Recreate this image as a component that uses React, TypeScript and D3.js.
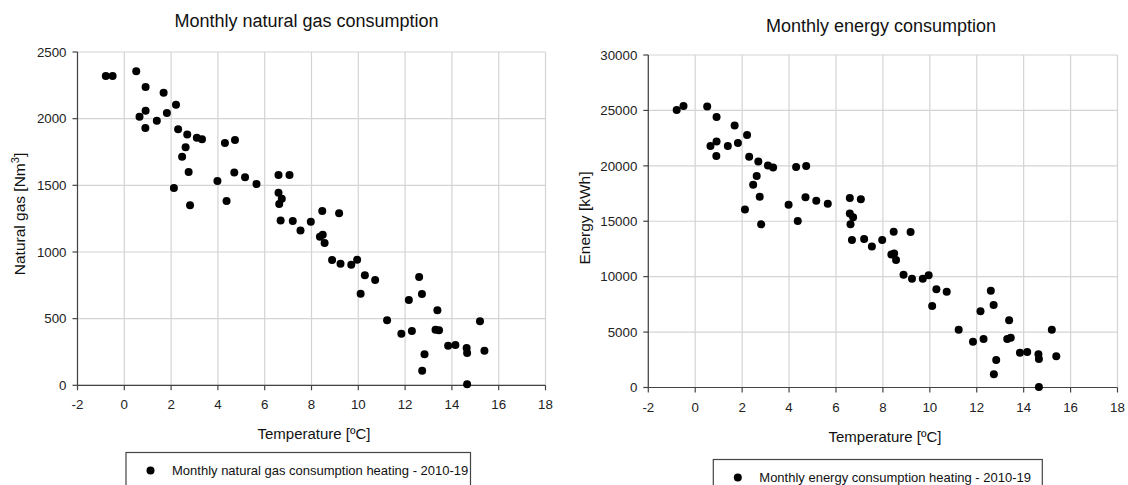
import React from "react";
import * as d3 from "d3";

const temperature = [
  -0.79, -0.5, 0.51, 0.91, 1.68, 2.21, 0.65, 0.91, 0.9, 1.39, 1.82, 2.3, 2.69, 3.1, 3.32, 2.62, 2.47,
  2.75, 2.12, 2.81, 4.3, 4.73, 4.7, 5.16, 5.65, 3.98, 4.37, 6.59, 7.06, 6.59, 6.73, 6.62, 6.68, 7.2,
  7.53, 7.97, 8.46, 9.18, 8.36, 8.48, 8.56, 8.88, 9.24, 9.7, 9.95, 10.28, 10.72, 10.1, 11.23, 11.84,
  12.29, 12.16, 12.6, 12.72, 13.38, 13.3, 13.45, 12.83, 12.73, 13.84, 14.15, 14.63, 14.65, 15.2,
  15.39, 14.65,
];

const naturalGas = [
  2320, 2320, 2355, 2237, 2195, 2105, 2015, 2060, 1930, 1985, 2042, 1920, 1882, 1857, 1845, 1785,
  1715, 1600, 1480, 1350, 1817, 1840, 1597, 1560, 1510, 1532, 1382, 1577, 1577, 1445, 1400, 1360,
  1237, 1232, 1162, 1227, 1307, 1290, 1115, 1130, 1067, 940, 912, 905, 942, 825, 790, 687, 487, 387,
  407, 640, 812, 685, 562, 417, 412, 232, 110, 297, 302, 280, 242, 480, 260, 7,
];

const energy = [
  25030, 25390, 25360, 24400, 23650, 22780, 21780, 22200, 20880, 21780, 22050, 20820, 20400, 20040,
  19860, 19080, 18290, 17210, 16070, 14720, 19890, 19980, 17160, 16850, 16580, 16490, 15020, 17090,
  16980, 15710, 15350, 14720, 13300, 13390, 12730, 13300, 14050, 14030, 12010, 12100, 11500, 10180,
  9810, 9810, 10120, 8860, 8640, 7350, 5210, 4130, 4370, 6870, 8730, 7440, 6060, 4370, 4490, 2480,
  1190, 3140, 3200, 2990, 2570, 5210, 2810, 45,
];

const xTicks = [-2, 0, 2, 4, 6, 8, 10, 12, 14, 16, 18];
const gasTicks = [0, 500, 1000, 1500, 2000, 2500];
const energyTicks = [0, 5000, 10000, 15000, 20000, 25000, 30000];

const FONT = "'Liberation Sans', Arial, sans-serif";

type PanelProps = {
  left: number;
  right: number;
  top: number;
  bottom: number;
  values: number[];
  yTicks: number[];
  title: string;
  titleX: number;
  titleY: number;
  yLabel: React.ReactNode;
  yLabelX: number;
  yLabelY: number;
  xLabelX: number;
  xLabelY: number;
  legend: string;
  legendBox: { x1: number; x2: number; y: number };
};

function Panel(p: PanelProps) {
  const x = d3.scaleLinear().domain([-2, 18]).range([p.left, p.right]);
  const y = d3
    .scaleLinear()
    .domain([0, p.yTicks[p.yTicks.length - 1]])
    .range([p.bottom, p.top]);
  return (
    <g fontFamily={FONT}>
      <text x={p.titleX} y={p.titleY} textAnchor="middle" fontSize={18} fill="#111">
        {p.title}
      </text>
      {xTicks.map((t) => (
        <line key={"gx" + t} x1={x(t)} x2={x(t)} y1={p.top} y2={p.bottom} stroke="#d4d4d4" strokeWidth={1.2} />
      ))}
      {p.yTicks.map((t) => (
        <line key={"gy" + t} x1={p.left} x2={p.right} y1={y(t)} y2={y(t)} stroke="#d4d4d4" strokeWidth={1.2} />
      ))}
      <line x1={p.left} x2={p.left} y1={p.top} y2={p.bottom} stroke="#444" strokeWidth={1.2} />
      <line x1={p.left} x2={p.right} y1={p.bottom} y2={p.bottom} stroke="#444" strokeWidth={1.2} />
      {xTicks.map((t) => (
        <g key={"tx" + t}>
          <line x1={x(t)} x2={x(t)} y1={p.bottom} y2={p.bottom + 5} stroke="#444" strokeWidth={1.2} />
          <text x={x(t)} y={p.bottom + 24} textAnchor="middle" fontSize={13.3} fill="#222">
            {t}
          </text>
        </g>
      ))}
      {p.yTicks.map((t) => (
        <g key={"ty" + t}>
          <line x1={p.left - 5} x2={p.left} y1={y(t)} y2={y(t)} stroke="#444" strokeWidth={1.2} />
          <text x={p.left - 11} y={y(t) + 4.8} textAnchor="end" fontSize={13.3} fill="#222">
            {t}
          </text>
        </g>
      ))}
      {temperature.map((t, i) => (
        <circle key={"c" + i} cx={x(t)} cy={y(p.values[i])} r={4} fill="#000" />
      ))}
      <text x={p.xLabelX} y={p.xLabelY} textAnchor="middle" fontSize={15} fill="#111">
        Temperature [ºC]
      </text>
      <text
        transform={`translate(${p.yLabelX},${p.yLabelY}) rotate(-90)`}
        textAnchor="middle"
        fontSize={15.5}
        fill="#111"
      >
        {p.yLabel}
      </text>
      <rect
        x={p.legendBox.x1}
        y={p.legendBox.y}
        width={p.legendBox.x2 - p.legendBox.x1}
        height={60}
        fill="#fff"
        stroke="#444"
        strokeWidth={1.2}
      />
      <circle cx={p.legendBox.x1 + 24.5} cy={p.legendBox.y + 18} r={4} fill="#000" />
      <text x={p.legendBox.x1 + 46} y={p.legendBox.y + 22} fontSize={13} fill="#111">
        {p.legend}
      </text>
    </g>
  );
}

export default function App() {
  return (
    <svg
      width={1128}
      height={485}
      style={{ position: "absolute", left: 0, top: 0, background: "#fff" }}
    >
      <rect width={1128} height={485} fill="#fff" />
      <Panel
        left={77.5}
        right={545.5}
        top={52}
        bottom={385.3}
        values={naturalGas}
        yTicks={gasTicks}
        title="Monthly natural gas consumption"
        titleX={306.5}
        titleY={27}
        yLabel={
          <>
            Natural gas [Nm<tspan dy={-6} fontSize={11}>3</tspan>
            <tspan dy={6}>]</tspan>
          </>
        }
        yLabelX={25}
        yLabelY={214}
        xLabelX={314}
        xLabelY={439}
        legend="Monthly natural gas consumption heating - 2010-19"
        legendBox={{ x1: 126, x2: 470.5, y: 452.5 }}
      />
      <Panel
        left={648.3}
        right={1117.5}
        top={55}
        bottom={387.5}
        values={energy}
        yTicks={energyTicks}
        title="Monthly energy consumption"
        titleX={881}
        titleY={32}
        yLabel="Energy [kWh]"
        yLabelX={590}
        yLabelY={218}
        xLabelX={885}
        xLabelY={441.5}
        legend="Monthly energy consumption heating - 2010-19"
        legendBox={{ x1: 713.3, x2: 1042.3, y: 459.5 }}
      />
    </svg>
  );
}
